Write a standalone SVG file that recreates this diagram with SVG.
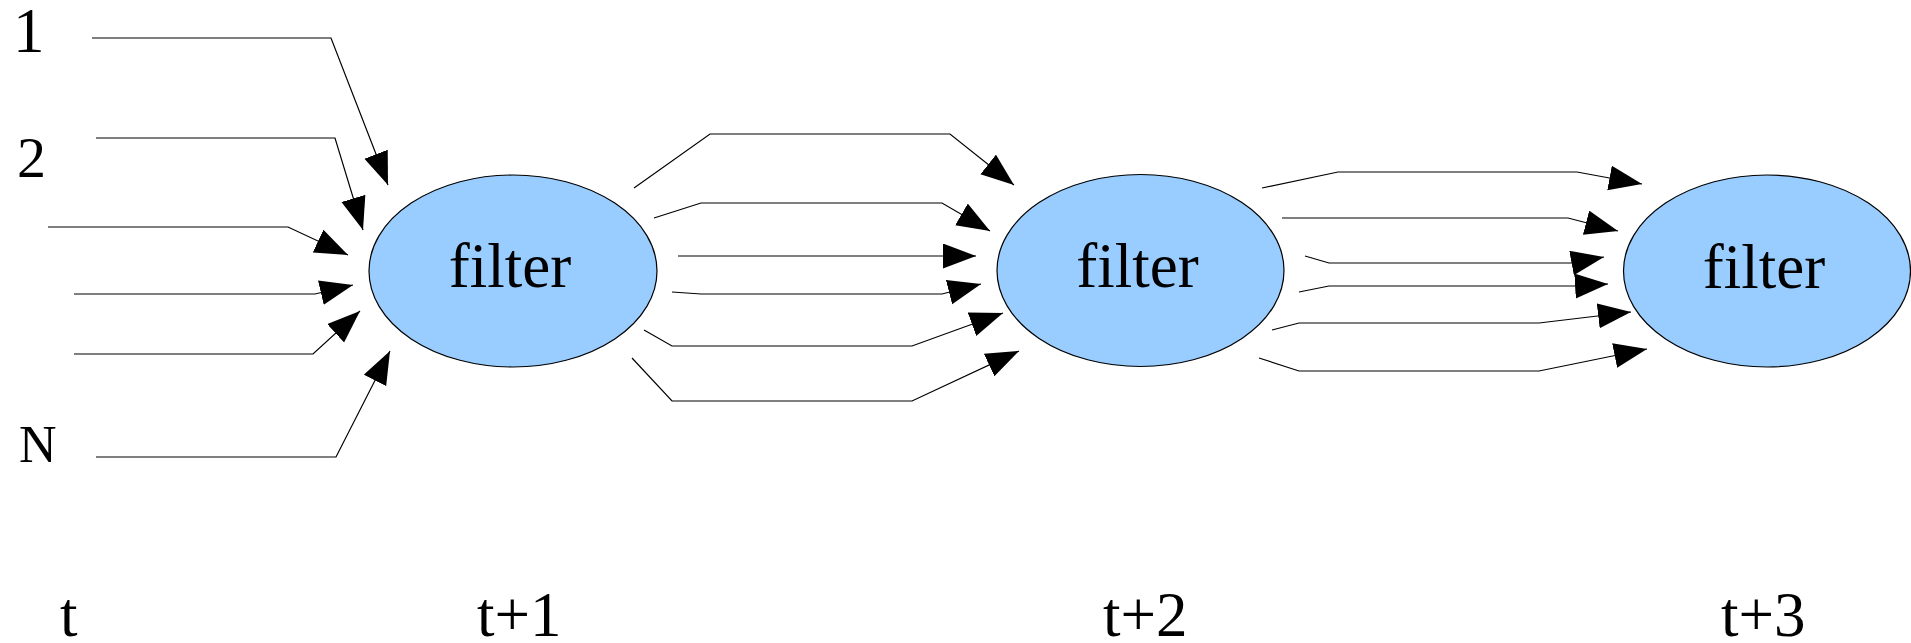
<svg xmlns="http://www.w3.org/2000/svg" width="1911" height="643" viewBox="0 0 1911 643">
  <style>
    .node ellipse { fill: #99ccff; stroke: #000; stroke-width: 1.2; }
    .label { font-family: "Liberation Serif", "Times New Roman", serif; fill: #000; }
    .node text { font-size: 63px; text-anchor: middle; }
    #connectors polyline { fill: none; stroke: #000; stroke-width: 1.2; marker-end: url(#arrow); }
  </style>
  <defs>
    <marker id="arrow" markerUnits="userSpaceOnUse" markerWidth="34" markerHeight="26" refX="33" refY="12.5" orient="auto">
      <path d="M0,0 L33,12.5 L0,25 z" fill="#000"/>
    </marker>
  </defs>
  <rect width="1911" height="643" fill="#fff"/>

  <!-- input labels -->
  <g id="inputs">
    <text class="label" x="13" y="52" font-size="63">1</text>
    <text class="label" x="17" y="177" font-size="58">2</text>
    <text class="label" x="19" y="462" font-size="52">N</text>
  </g>

  <!-- time step labels -->
  <g id="timeline">
    <text class="label" x="60" y="636" font-size="63">t</text>
    <text class="label" x="477" y="636" font-size="63">t+1</text>
    <text class="label" x="1103" y="636" font-size="63">t+2</text>
    <text class="label" x="1721" y="636" font-size="63">t+3</text>
  </g>

  <!-- filter stages -->
  <g id="filter1" class="node">
    <ellipse cx="513" cy="271" rx="144" ry="96"/>
    <text class="label" x="510" y="287">filter</text>
  </g>
  <g id="filter2" class="node">
    <ellipse cx="1140.5" cy="270.5" rx="143.5" ry="96"/>
    <text class="label" x="1137.5" y="287">filter</text>
  </g>
  <g id="filter3" class="node">
    <ellipse cx="1767" cy="271" rx="143.5" ry="96"/>
    <text class="label" x="1764" y="288">filter</text>
  </g>

  <g id="connectors">
    <!-- inputs into the first filter -->
    <polyline points="92,38 331,38 388,185"/>
    <polyline points="96,138 335,138 363,230"/>
    <polyline points="48,227 288,227 348,255"/>
    <polyline points="74,294 315,294 353,285"/>
    <polyline points="74,354 313,354 360,311"/>
    <polyline points="96,457 336,457 390,351"/>

    <!-- first filter to second filter -->
    <polyline points="634,188 710,134 950,134 1014,185"/>
    <polyline points="654,218 701,203 942,203 990,231"/>
    <polyline points="678,256 943,256 976,256"/>
    <polyline points="672,292 701,294 942,294 981,284"/>
    <polyline points="644,330 672,346 912,346 1003,313"/>
    <polyline points="632,358 672,401 912,401 1019,351"/>

    <!-- second filter to third filter -->
    <polyline points="1262,188 1338,172 1577,172 1642,184"/>
    <polyline points="1282,218 1328,218 1568,218 1618,231"/>
    <polyline points="1305,256 1329,263 1572,263 1604,257"/>
    <polyline points="1299,292 1329,286 1575,286 1608,284"/>
    <polyline points="1272,330 1299,323 1539,323 1631,312"/>
    <polyline points="1259,358 1299,371 1539,371 1647,349"/>
  </g>
</svg>
